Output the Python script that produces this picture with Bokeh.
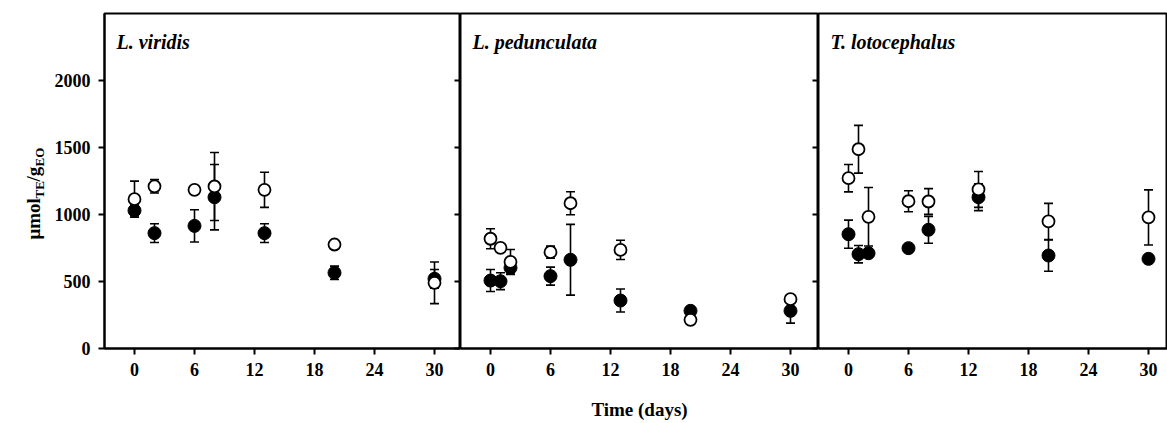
import math
from bokeh.plotting import figure
from bokeh.layouts import row
from bokeh.models import (ColumnDataSource, Whisker, TeeHead, FixedTicker,
                          LinearAxis, Label, Range1d)
from bokeh.embed import file_html
from bokeh.resources import INLINE

titles = ["L. viridis", "L. pedunculata", "T. lotocephalus"]
x_ticks = [0, 6, 12, 18, 24, 30]
y_ticks = [0, 500, 1000, 1500, 2000]

lv_days = [0, 2, 6, 8, 13, 20, 30]
lv_open = [1114, 1210, 1184, 1209, 1184, 776, 490]
lv_open_err = [135, 50, 20, 254, 131, 25, 155]
lv_fill = [1030, 861, 915, 1129, 861, 565, 520]
lv_fill_err = [40, 70, 120, 244, 70, 50, 70]

lp_days = [0, 1, 2, 6, 8, 13, 20, 30]
lp_open = [819, 751, 647, 719, 1084, 736, 214, 368]
lp_open_err = [75, 20, 92, 45, 86, 72, 20, 20]
lp_fill = [507, 502, 602, 540, 662, 358, 281, 281]
lp_fill_err = [82, 63, 50, 67, 264, 86, 20, 92]

tl_days = [0, 1, 2, 6, 8, 13, 20, 30]
tl_open = [1271, 1487, 983, 1099, 1097, 1187, 948, 978]
tl_open_err = [102, 178, 218, 78, 96, 134, 135, 206]
tl_fill = [853, 704, 711, 749, 886, 1129, 694, 669]
tl_fill_err = [105, 65, 30, 20, 100, 100, 117, 30]

FONT = "Liberation Serif"
STRIP_W = 50


def make_panel(days, op, ope, fi, fie, title, first, right_ticks, fw, xmax, xlabel=None):
    p = figure(frame_width=fw, frame_height=335,
               x_range=Range1d(-3, xmax), y_range=Range1d(0, 2500),
               output_backend="svg", toolbar_location=None,
               y_axis_location="left" if first else None,
               min_border_top=13, min_border_bottom=75,
               min_border_left=(104 - STRIP_W) if first else 0, min_border_right=0)
    p.xgrid.visible = False
    p.ygrid.visible = False
    p.outline_line_color = "black"
    p.outline_line_width = 2
    p.background_fill_color = "white"
    p.border_fill_color = "white"

    xa = p.xaxis[0]
    xa.ticker = FixedTicker(ticks=x_ticks)
    xa.major_tick_out = 6
    xa.major_tick_in = 0
    xa.minor_tick_line_color = None
    xa.axis_line_width = 2
    xa.axis_line_color = "black"
    xa.major_tick_line_width = 2
    xa.major_tick_line_color = "black"
    xa.major_label_text_font = FONT
    xa.major_label_text_font_style = "bold"
    xa.major_label_text_font_size = "18px"
    xa.major_label_text_color = "black"
    xa.major_label_standoff = 8
    if xlabel:
        xa.axis_label = xlabel
        xa.axis_label_text_font = FONT
        xa.axis_label_text_font_style = "bold"
        xa.axis_label_text_font_size = "19px"
        xa.axis_label_text_color = "black"
        xa.axis_label_standoff = 20

    if first:
        ya = p.yaxis[0]
        ya.ticker = FixedTicker(ticks=y_ticks)
        ya.major_tick_out = 6
        ya.major_tick_in = 0
        ya.minor_tick_line_color = None
        ya.axis_line_width = 2
        ya.axis_line_color = "black"
        ya.major_tick_line_width = 2
        ya.major_tick_line_color = "black"
        ya.major_label_text_font = FONT
        ya.major_label_text_font_style = "bold"
        ya.major_label_text_font_size = "18px"
        ya.major_label_text_color = "black"
        ya.major_label_standoff = 8

    if right_ticks:
        ra = LinearAxis(ticker=FixedTicker(ticks=y_ticks), major_tick_in=6,
                        major_tick_out=0,
                        major_label_overrides={t: "" for t in y_ticks},
                        major_label_standoff=0, minor_tick_line_color=None,
                        axis_line_width=2, major_tick_line_width=2,
                        axis_line_color="black", major_tick_line_color="black")
        p.add_layout(ra, "right")

    for vals, errs in ((fi, fie), (op, ope)):
        src = ColumnDataSource(dict(x=days, y=vals,
                                    lo=[v - e for v, e in zip(vals, errs)],
                                    hi=[v + e for v, e in zip(vals, errs)]))
        w = Whisker(source=src, base="x", upper="hi", lower="lo",
                    line_color="black", line_width=1.6,
                    upper_head=TeeHead(size=9, line_width=1.6, line_color="black"),
                    lower_head=TeeHead(size=9, line_width=1.6, line_color="black"),
                    level="underlay")
        p.add_layout(w)

    p.scatter(days, fi, size=13, marker="circle", fill_color="black",
              line_color="black", line_width=1)
    p.scatter(days, op, size=12, marker="circle", fill_color="white",
              line_color="black", line_width=1.8)

    p.add_layout(Label(x=12, y=307, x_units="screen", y_units="screen",
                       text=title, text_font=FONT, text_font_style="bold italic",
                       text_font_size="20px", text_baseline="alphabetic",
                       text_color="black"))
    return p


p1 = make_panel(lv_days, lv_open, lv_open_err, lv_fill, lv_fill_err,
                titles[0], True, True, 356, 32.6)
p2 = make_panel(lp_days, lp_open, lp_open_err, lp_fill, lp_fill_err,
                titles[1], False, True, 358, 32.8, xlabel="Time (days)")
p3 = make_panel(tl_days, tl_open, tl_open_err, tl_fill, tl_fill_err,
                titles[2], False, False, 349, 31.9)

# narrow strip holding the y-axis title with subscripts
p0 = figure(frame_width=STRIP_W, frame_height=423, output_backend="svg",
            toolbar_location=None, x_axis_location=None, y_axis_location=None,
            min_border_left=0, min_border_right=0, min_border_top=0,
            min_border_bottom=0, x_range=Range1d(0, 1), y_range=Range1d(0, 1))
p0.outline_line_color = None
p0.xgrid.visible = False
p0.ygrid.visible = False

ylabel_parts = [("μmol", "19px", 0, 41), ("TE", "13px", 6, 17),
                ("/g", "19px", 0, 15), ("EO", "13px", 6, 19)]
ypos = 197
for txt, fs, dx, wpx in ylabel_parts:
    p0.add_layout(Label(x=33 + dx, y=ypos, x_units="screen", y_units="screen",
                        text=txt, angle=math.pi / 2, text_font=FONT,
                        text_font_style="bold", text_font_size=fs,
                        text_baseline="alphabetic", text_align="left",
                        text_color="black"))
    ypos += wpx

layout = row(p0, p1, p2, p3, spacing=0)
open("out.html", "w").write(file_html(layout, INLINE))
